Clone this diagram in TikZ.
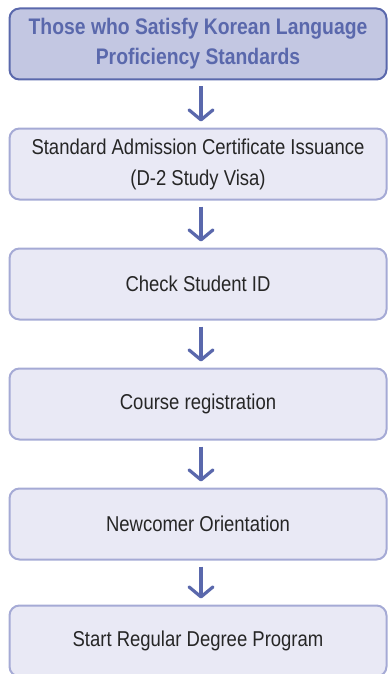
\documentclass[tikz,border=0pt]{standalone}
\usepackage{fontspec}
\setmainfont{Liberation Sans}[FakeStretch=0.86]
\usetikzlibrary{positioning,arrows.meta}
\definecolor{deepblue}{HTML}{5A68AC}
\definecolor{headfill}{HTML}{C3C7E2}
\definecolor{softline}{HTML}{A5AAD5}
\definecolor{softfill}{HTML}{E9E9F5}

\tikzset{
  stage/.style={draw=softline, fill=softfill, line width=2pt, rounded corners=10pt,
    minimum width=377pt, minimum height=71pt, align=center, text=black!85,
    font=\fontsize{21.5}{31}\selectfont},
  headstage/.style={stage, draw=deepblue, fill=headfill, text=deepblue,
    font=\fontsize{22.5}{30}\selectfont\bfseries},
  flow/.style={->, draw=deepblue, line width=3.2pt}
}

\begin{document}
\begin{tikzpicture}[x=1pt, y=-1pt, >={Straight Barb[length=10pt,width=24pt,round]}]
  \useasboundingbox (0,0) rectangle (388,674);
  \pgfmathsetmacro{\cx}{198}
  \pgfmathsetmacro{\gap}{120}

  \node[headstage] (hd) at (\cx,44) {Those who Satisfy Korean Language\\Proficiency Standards};
  \node[stage] (cert) at (\cx,44+\gap) {Standard Admission Certificate Issuance\\(D-2 Study Visa)};
  \node[stage] (sid) at (\cx,44+2*\gap) {Check Student ID};
  \node[stage] (reg) at (\cx,44+3*\gap) {Course registration};
  \node[stage] (orient) at (\cx,44+4*\gap) {Newcomer Orientation};
  \node[stage] (degree) at (\cx,44+5*\gap-3) {Start Regular Degree Program};

  % arrows between the stages
  \foreach \a/\b in {hd/cert, cert/sid, sid/reg, reg/orient, orient/degree}
    \draw[flow] ([xshift=3pt,yshift=-6pt]\a.south) -- ([xshift=3pt,yshift=6pt]\b.north);
\end{tikzpicture}
\end{document}
